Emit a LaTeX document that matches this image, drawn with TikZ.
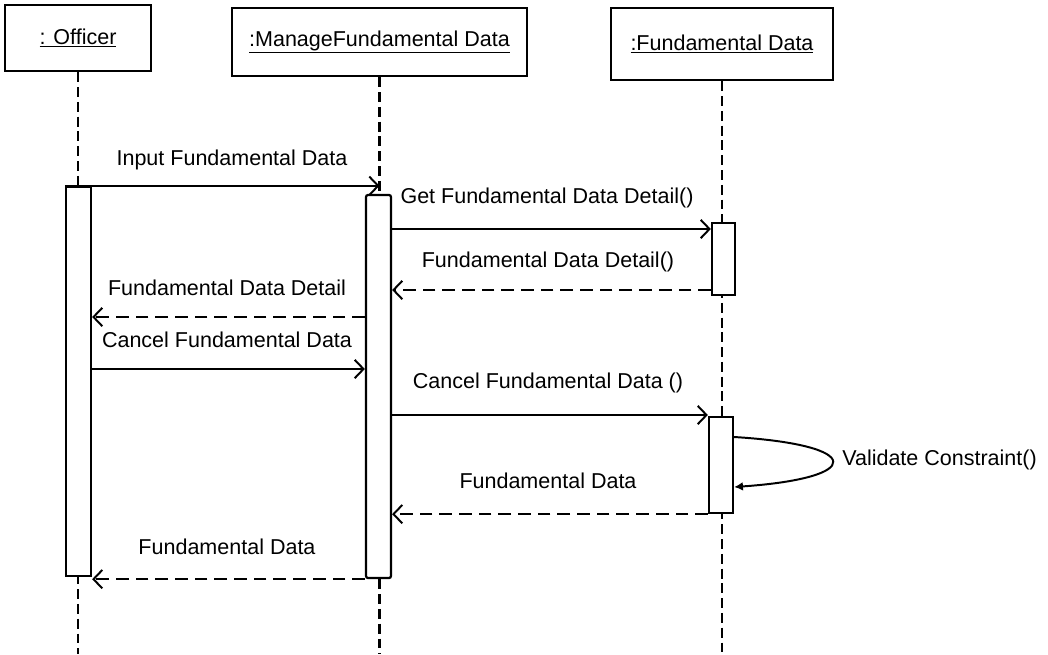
\documentclass[tikz,border=0pt]{standalone}
\usepackage{fontspec}
\setmainfont{Liberation Sans}
\usetikzlibrary{arrows.meta}
\begin{document}
\begin{tikzpicture}[x=0.025cm,y=-0.025cm,
  every node/.style={font=\fontsize{15.3}{18}\selectfont},
  objbox/.style={draw, line width=2pt, inner sep=0pt},
  act/.style={draw, line width=1.6pt, fill=white, inner sep=0pt},
  life/.style={line width=1.8pt, dash pattern=on 7pt off 3.5pt},
  msg/.style={line width=1.4pt, -{Straight Barb[length=2.2mm,width=4.6mm,line width=1.4pt]}},
  reply/.style={msg, dash pattern=on 9pt off 5pt},
  lbl/.style={inner sep=0pt}
]
\useasboundingbox (0,0) rectangle (1048,654);

% object heads
\node[objbox, minimum width=3.65cm, minimum height=1.65cm] (officer) at (78,38) {\underline{: Officer}};
\node[objbox, minimum width=7.375cm, minimum height=1.7cm] (manage) at (379.5,42) {\underline{:ManageFundamental Data}};
\node[objbox, minimum width=5.55cm, minimum height=1.8cm] (fdata) at (722,44) {\underline{:Fundamental Data}};

% lifelines
\coordinate (oend) at (78,654);
\coordinate (mend) at (379.5,654);
\coordinate (fend) at (722,654);
\draw[life] (officer.south) -- (oend);
\draw[life] (manage.south) -- (mend);
\draw[life] (fdata.south) -- (fend);

% activation bars
\node[act, minimum width=0.625cm, minimum height=9.725cm] (oact) at (78.5,381.5) {};
\node[act, rounded corners=1.5pt, minimum width=0.625cm, minimum height=9.575cm] (mact) at (378.5,386.5) {};
\node[act, minimum width=0.575cm, minimum height=1.8cm] (fact1) at (723.5,259) {};
\node[act, minimum width=0.6cm, minimum height=2.4cm] (fact2) at (721,465) {};

% messages
\draw[msg] (oact.north west) -- (oact.north west -| manage.south);
\node[lbl] (l1) at (232,160) {Input Fundamental Data};

\draw[msg] (mact.east |- 0,229) -- (fact1.west |- 0,229);
\node[lbl] (l2) at (547,198) {Get Fundamental Data Detail()};

\draw[reply] (fact1.west |- 0,290) -- (mact.east |- 0,290);
\node[lbl] (l3) at (548,262) {Fundamental Data Detail()};

\draw[reply] (mact.west |- 0,317) -- (oact.east |- 0,317);
\node[lbl] (l4) at (227,288) {Fundamental Data Detail};

\draw[msg] (oact.east |- 0,369) -- (mact.west |- 0,369);
\node[lbl] (l5) at (227,340) {Cancel Fundamental Data};

\draw[msg] (mact.east |- 0,415) -- (fact2.west |- 0,415);
\node[lbl] (l6) at (548,383) {Cancel Fundamental Data ()};

% self call
\draw[line width=1.4pt, -{Latex[length=2.2mm,width=2.2mm]}]
  (fact2.east |- 0,437) .. controls (865,445) and (865,478) .. (fact2.east |- 0,487);
\node[lbl, anchor=west] (l7) at (842,460) {Validate Constraint()};

\draw[reply] (fact2.south west) -- (fact2.south west -| mact.east);
\node[lbl] (l8) at (548,481) {Fundamental Data};

\draw[reply] (mact.south west) -- (mact.south west -| oact.east);
\node[lbl] (l9) at (227,547) {Fundamental Data};
\end{tikzpicture}
\end{document}
